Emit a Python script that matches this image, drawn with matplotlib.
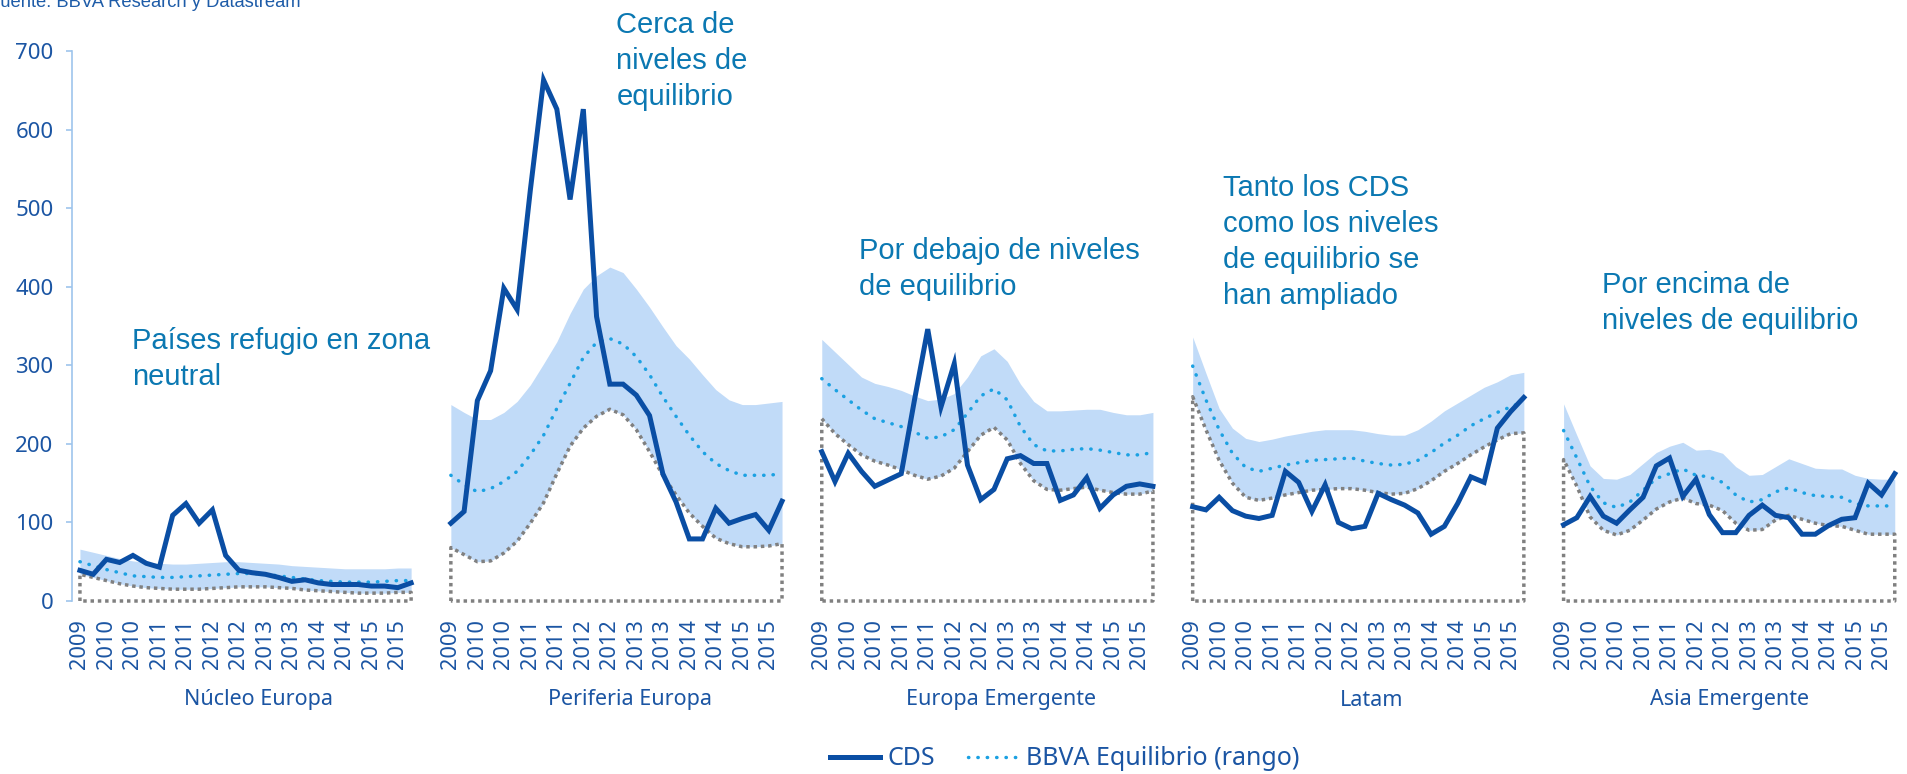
import numpy as np
import matplotlib
matplotlib.use("Agg")
import matplotlib.pyplot as plt
from matplotlib.lines import Line2D
import matplotlib.transforms as mtransforms

# =========================
# Data
# 26 half-year points per region, labels every 2nd point
# =========================
regions = ["Núcleo Europa", "Periferia Europa", "Europa Emergente", "Latam", "Asia Emergente"]
tick_years = ["2009", "2010", "2010", "2011", "2011", "2012", "2012",
              "2013", "2013", "2014", "2014", "2015", "2015"]

cds_nucleo = [39, 34, 53, 49, 58, 48, 43, 109, 124, 99, 116, 58, 39, 36, 34, 30, 25, 27, 23, 21, 21, 21, 19, 19, 17, 23]
eq_nucleo = [50, 45, 40, 36, 32, 31, 30, 30, 31, 32, 33, 34, 35, 35, 34, 32, 30, 28, 26, 25, 24, 24, 24, 25, 26, 26]
low_nucleo = [34, 30, 26, 22, 19, 17, 16, 15, 15, 15, 16, 17, 18, 18, 18, 17, 16, 14, 13, 12, 11, 10, 10, 10, 11, 11]
high_nucleo = [66, 62, 58, 54, 51, 49, 48, 47, 47, 48, 49, 50, 50, 49, 48, 47, 45, 44, 43, 42, 41, 41, 41, 41, 42, 42]

cds_periferia = [99, 114, 255, 293, 398, 371, 523, 663, 626, 511, 626, 362, 276, 276, 262, 236, 162, 126, 79, 79, 118, 99, 105, 110, 90, 127]
eq_periferia = [160, 148, 139, 143, 152, 165, 186, 211, 245, 277, 310, 329, 334, 327, 311, 288, 260, 235, 211, 190, 175, 166, 160, 160, 160, 162]
low_periferia = [68, 59, 50, 51, 61, 76, 99, 125, 162, 197, 220, 235, 244, 237, 218, 190, 160, 135, 112, 95, 80, 73, 69, 69, 70, 73]
high_periferia = [250, 240, 231, 231, 240, 254, 275, 302, 330, 366, 397, 414, 425, 418, 397, 374, 349, 325, 308, 288, 269, 256, 250, 250, 252, 254]

cds_emeur = [190, 152, 188, 165, 146, 154, 162, 256, 346, 247, 302, 173, 129, 142, 181, 185, 175, 175, 128, 135, 157, 118, 135, 146, 149, 146]
eq_emeur = [283, 269, 256, 243, 232, 227, 222, 215, 207, 209, 218, 239, 261, 270, 256, 222, 199, 191, 191, 193, 194, 192, 189, 186, 186, 189]
low_emeur = [232, 213, 199, 186, 178, 173, 167, 160, 155, 159, 169, 190, 211, 221, 205, 175, 153, 142, 141, 143, 145, 141, 138, 136, 136, 140]
high_emeur = [333, 317, 301, 285, 277, 273, 268, 261, 255, 257, 264, 285, 312, 321, 305, 276, 254, 242, 242, 243, 244, 244, 240, 237, 237, 240]

cds_latam = [120, 116, 132, 115, 108, 105, 109, 165, 151, 114, 148, 100, 92, 95, 137, 129, 122, 112, 85, 95, 124, 158, 151, 220, 241, 259]
eq_latam = [299, 256, 218, 188, 170, 165, 169, 173, 176, 179, 180, 181, 182, 178, 175, 173, 174, 179, 189, 201, 211, 223, 232, 240, 247, 254]
low_latam = [260, 218, 179, 150, 132, 128, 131, 135, 138, 141, 142, 143, 143, 141, 138, 136, 137, 143, 153, 165, 175, 186, 196, 205, 213, 214]
high_latam = [336, 290, 245, 220, 207, 203, 206, 210, 213, 216, 218, 218, 218, 216, 213, 211, 211, 218, 229, 242, 252, 262, 272, 279, 288, 291]

cds_asia = [97, 106, 133, 108, 99, 116, 132, 172, 182, 133, 155, 110, 87, 87, 109, 122, 109, 106, 85, 85, 96, 104, 106, 150, 135, 162]
eq_asia = [217, 182, 146, 125, 119, 126, 141, 156, 162, 168, 160, 158, 151, 135, 126, 129, 139, 144, 138, 134, 133, 132, 124, 121, 121, 121]
low_asia = [180, 146, 107, 90, 84, 90, 103, 117, 126, 131, 124, 122, 115, 99, 90, 91, 103, 109, 104, 99, 96, 95, 90, 85, 85, 85]
high_asia = [251, 211, 172, 156, 155, 161, 175, 189, 197, 202, 192, 193, 188, 171, 160, 161, 171, 181, 175, 169, 168, 168, 160, 156, 155, 155]

cds_all = [cds_nucleo, cds_periferia, cds_emeur, cds_latam, cds_asia]
eq_all = [eq_nucleo, eq_periferia, eq_emeur, eq_latam, eq_asia]
low_all = [low_nucleo, low_periferia, low_emeur, low_latam, low_asia]
high_all = [high_nucleo, high_periferia, high_emeur, high_latam, high_asia]

notes = ["Países refugio en zona\nneutral",
         "Cerca de\nniveles de\nequilibrio",
         "Por debajo de niveles\nde equilibrio",
         "Tanto los CDS\ncomo los niveles\nde equilibrio se\nhan ampliado",
         "Por encima de\nniveles de equilibrio"]
# note anchor (x offset in categories from group start, top y in chart units)
note_pos = [(3.9, 349), (12.5, 751), (2.8, 463), (2.3, 543), (2.9, 420)]

# =========================
# Styles
# =========================
C_CDS = "#0a4ea4"
C_EQ = "#1ba1e2"
C_FILL = "#c1dbf8"
C_LOW = "#808080"
C_TXT = "#1b55a3"
C_NOTE = "#0b78b2"
C_SPINE = "#9ec5ec"
TICK_FONT = "Noto Sans"
NOTE_FONT = "Liberation Sans"
EQ_STYLE = (0, (0.1, 2.6))

n_pts = 26
slot = 28  # 26 points + 2 empty categories

fig = plt.figure(figsize=(19.08, 7.74), dpi=100)
ax = fig.add_axes([72 / 1908, 173 / 774, 1836 / 1908, 550 / 774])

xticks, xlabels = [], []
for g in range(len(regions)):
    x = np.arange(n_pts) + g * slot
    cds = np.array(cds_all[g])
    eq = np.array(eq_all[g])
    lo = np.array(low_all[g])
    hi = np.array(high_all[g])

    ax.fill_between(x, lo, hi, color=C_FILL, lw=0, zorder=1)
    # lower bound drawn as dotted outline down to zero
    bx = np.concatenate([[x[0]], x, [x[-1], x[0]]])
    by = np.concatenate([[0], lo, [0, 0]])
    ax.plot(bx, by, color=C_LOW, lw=2.5, linestyle=(0, (1, 1.1)), zorder=2, clip_on=False)
    ax.plot(x, eq, color=C_EQ, lw=2.5, linestyle=EQ_STYLE,
            dash_capstyle="round", zorder=3)
    ax.plot(x, cds, color=C_CDS, lw=3.6, solid_joinstyle="miter", zorder=4)

    xticks += list(x[::2])
    xlabels += tick_years

    centre = g * slot + (min(slot, 138 - g * slot) - 1) / 2
    trans = mtransforms.blended_transform_factory(ax.transData, ax.transAxes)
    ax.text(centre, -0.18, regions[g], transform=trans, ha="center", va="center",
            fontsize=15.5, family=TICK_FONT, color=C_TXT)

    nx, ny = note_pos[g]
    ax.text(g * slot + nx, ny, notes[g], ha="left", va="top", fontsize=21,
            family=NOTE_FONT, color=C_NOTE, linespacing=1.36)

ax.set_xlim(-0.6, 138)
ax.set_ylim(0, 700)
ax.set_yticks(np.arange(0, 701, 100))
ax.set_xticks(xticks)
ax.set_xticklabels(xlabels, rotation=90)

for s in ["top", "right", "bottom"]:
    ax.spines[s].set_visible(False)
ax.spines["left"].set_color(C_SPINE)
ax.spines["left"].set_linewidth(1.2)

ax.tick_params(axis="y", length=4.3, width=1.2, color=C_SPINE, pad=9,
               labelsize=16, labelcolor=C_TXT)
ax.tick_params(axis="x", length=0, pad=13, labelsize=15.7, labelcolor=C_TXT)
for lab in ax.get_xticklabels() + ax.get_yticklabels():
    lab.set_family(TICK_FONT)

handles = [Line2D([], [], color=C_CDS, lw=3.6),
           Line2D([], [], color=C_EQ, lw=2.5, linestyle=EQ_STYLE, dash_capstyle="round")]
fig.legend(handles, ["CDS", "BBVA Equilibrio (rango)"], loc="center",
           bbox_to_anchor=(0.558, 0.0194), ncol=2, frameon=False,
           prop={"family": TICK_FONT, "size": 18}, labelcolor=C_TXT,
           handlelength=2.0, handletextpad=0.3, columnspacing=1.3)

# source line is cut off at the top edge, as in the original
fig.text(-11 / 1908, 1 - 7 / 774, "Fuente: BBVA Research y Datastream", ha="left",
         va="baseline", fontsize=13.2, family=NOTE_FONT, color="#1e5ca8")

fig.savefig("out.png", dpi=100)
